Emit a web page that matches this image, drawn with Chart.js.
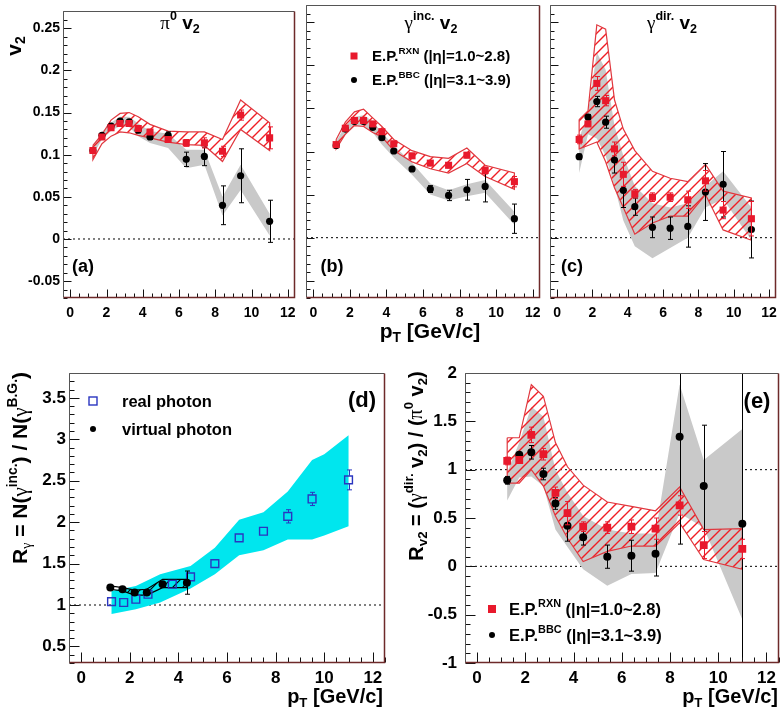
<!DOCTYPE html>
<html>
<head>
<meta charset="utf-8">
<script src="https://cdn.jsdelivr.net/npm/chart.js@4.4.0/dist/chart.umd.min.js"></script>
<style>
  body { margin: 0; background: #fff; }
  #wrap { position: relative; width: 784px; height: 719px; }
  #wrap canvas { position: absolute; left: 0; top: 0; pointer-events: none; }
</style>
</head>
<body>
<div id="wrap">
  <canvas id="pa" width="784" height="719"></canvas>
  <canvas id="pb" width="784" height="719"></canvas>
  <canvas id="pc" width="784" height="719"></canvas>
  <canvas id="pd" width="784" height="719"></canvas>
  <canvas id="pe" width="784" height="719"></canvas>
</div>
<script>
// pT bin centres used in panels (a), (b), (c), (e)
var ptBins = [1.25, 1.75, 2.25, 2.75, 3.25, 3.75, 4.4, 5.4, 6.4, 7.4, 8.4, 9.4, 11.0];

// (a) pi0 v2
var pi0RxnV2    = [0.105, 0.121, 0.132, 0.137, 0.137, 0.131, 0.127, 0.118, 0.114, 0.114, 0.104, 0.147, 0.120];
var pi0RxnErr   = [0.002, 0.002, 0.002, 0.002, 0.002, 0.003, 0.003, 0.003, 0.004, 0.006, 0.006, 0.006, 0.013];
var pi0RxnSysHi = [0.111, 0.124, 0.141, 0.149, 0.150, 0.145, 0.136, 0.128, 0.127, 0.127, 0.118, 0.165, 0.138];
var pi0RxnSysLo = [0.094, 0.113, 0.122, 0.127, 0.126, 0.123, 0.120, 0.115, 0.112, 0.111, 0.092, 0.130, 0.105];
var pi0BbcV2    = [0.105, 0.123, 0.134, 0.140, 0.139, 0.129, 0.121, 0.123, 0.0945, 0.098, 0.040, 0.075, 0.021];
var pi0BbcErr   = [0.002, 0.002, 0.002, 0.002, 0.002, 0.003, 0.003, 0.004, 0.0085, 0.011, 0.023, 0.032, 0.025];
var pi0BbcSysHi = [0.110, 0.127, 0.138, 0.145, 0.145, 0.137, 0.128, 0.125, 0.106, 0.106, 0.050, 0.088, 0.030];
var pi0BbcSysLo = [0.100, 0.118, 0.128, 0.134, 0.133, 0.122, 0.114, 0.108, 0.084, 0.088, 0.028, 0.058, 0.004];

// (b) inclusive photon v2
var incRxnV2    = [0.108, 0.127, 0.136, 0.136, 0.132, 0.123, 0.109, 0.095, 0.0865, 0.084, 0.0957, 0.078, 0.065];
var incRxnErr   = [0.002, 0.002, 0.002, 0.002, 0.002, 0.002, 0.002, 0.002, 0.002, 0.003, 0.003, 0.004, 0.006];
var incRxnSysHi = [0.114, 0.134, 0.146, 0.149, 0.139, 0.129, 0.114, 0.101, 0.094, 0.092, 0.104, 0.084, 0.075];
var incRxnSysLo = [0.103, 0.120, 0.130, 0.129, 0.122, 0.117, 0.101, 0.088, 0.080, 0.075, 0.086, 0.071, 0.056];
var incBbcV2    = [0.107, 0.126, 0.135, 0.135, 0.128, 0.116, 0.1006, 0.0797, 0.0564, 0.049, 0.0556, 0.0595, 0.022];
var incBbcErr   = [0.002, 0.002, 0.002, 0.002, 0.002, 0.002, 0.002, 0.002, 0.004, 0.006, 0.012, 0.018, 0.017];
var incBbcSysHi = [0.112, 0.130, 0.140, 0.142, 0.135, 0.122, 0.107, 0.087, 0.063, 0.055, 0.062, 0.067, 0.030];
var incBbcSysLo = [0.102, 0.120, 0.130, 0.130, 0.122, 0.108, 0.093, 0.073, 0.050, 0.043, 0.048, 0.052, 0.015];

// (c) direct photon v2
var dirRxnV2    = [0.114, 0.132, 0.179, 0.159, 0.103, 0.0735, 0.051, 0.047, 0.047, 0.044, 0.066, 0.032, 0.022];
var dirRxnErr   = [0.005, 0.003, 0.008, 0.006, 0.008, 0.014, 0.005, 0.005, 0.005, 0.010, 0.012, 0.010, 0.020];
var dirRxnSysHi = [0.137, 0.147, 0.247, 0.242, 0.160, 0.126, 0.101, 0.077, 0.069, 0.065, 0.085, 0.054, 0.046];
var dirRxnSysLo = [0.103, 0.107, 0.111, 0.088, 0.058, 0.035, 0.004, 0.017, 0.025, 0.025, 0.050, 0.009, -0.003];
var dirBbcV2    = [0.094, 0.140, 0.158, 0.134, 0.090, 0.055, 0.036, 0.012, 0.011, 0.013, 0.053, 0.062, 0.0095];
var dirBbcErr   = [0.003, 0.003, 0.006, 0.007, 0.015, 0.020, 0.010, 0.012, 0.013, 0.024, 0.033, 0.038, 0.033];
var dirBbcSysHi = [0.115, 0.145, 0.215, 0.195, 0.130, 0.095, 0.060, 0.040, 0.035, 0.040, 0.060, 0.077, 0.035];
var dirBbcSysLo = [0.075, 0.120, 0.115, 0.095, 0.060, 0.020, -0.010, -0.024, -0.012, 0.000, 0.035, 0.045, -0.003];

// (d) R_gamma
var realPt    = [1.25, 1.75, 2.25, 2.75, 3.75, 4.5, 5.5, 6.5, 7.5, 8.5, 9.5, 11.0];
var realR     = [1.04, 1.03, 1.07, 1.13, 1.25, 1.34, 1.50, 1.81, 1.89, 2.07, 2.28, 2.51];
var realErr   = [0.01, 0.01, 0.01, 0.01, 0.01, 0.02, 0.01, 0.02, 0.03, 0.08, 0.08, 0.12];
var realSysPt = [1.25, 2.25, 3.25, 4.5, 5.5, 6.5, 7.5, 8.5, 9.5, 10.0, 11.0];
var realSysHi = [1.17, 1.23, 1.37, 1.47, 1.69, 2.03, 2.12, 2.37, 2.75, 2.82, 3.05];
var realSysLo = [0.89, 0.95, 1.03, 1.20, 1.37, 1.60, 1.66, 1.79, 1.79, 1.84, 1.95];
var virtPt    = [1.2, 1.7, 2.2, 2.7, 3.35, 4.35];
var virtR     = [1.21, 1.19, 1.15, 1.15, 1.25, 1.27];
var virtErr   = [0.01, 0.01, 0.01, 0.01, 0.02, 0.14];
var virtSysHi = [1.23, 1.21, 1.18, 1.19, 1.31, 1.31];
var virtSysLo = [1.19, 1.17, 1.12, 1.12, 1.21, 1.21];

// (e) R_v2 = direct v2 / pi0 v2
var ratioRxn      = [1.09, 1.10, 1.36, 1.16, 0.76, 0.55, 0.41, 0.40, 0.41, 0.39, 0.63, 0.22, 0.18];
var ratioRxnErr   = [0.04, 0.03, 0.08, 0.06, 0.06, 0.12, 0.05, 0.06, 0.07, 0.11, 0.10, 0.14, 0.10];
var ratioRxnSysHi = [1.33, 1.33, 1.88, 1.76, 1.28, 1.03, 0.84, 0.665, 0.62, 0.575, 0.82, 0.38, 0.39];
var ratioRxnSysLo = [0.86, 0.86, 1.00, 0.83, 0.52, 0.29, 0.05, 0.155, 0.21, 0.21, 0.45, 0.07, -0.03];
var ratioBbc      = [0.89, 1.155, 1.18, 0.955, 0.65, 0.42, 0.30, 0.10, 0.11, 0.13, 1.34, 0.83, 0.44];
var ratioBbcErr   = [0.04, 0.02, 0.07, 0.06, 0.06, 0.16, 0.08, 0.12, 0.16, 0.23, 1.11, 0.63, 3.5];
var ratioBbcSysHi = [0.97, 1.28, 1.65, 1.55, 1.00, 0.76, 0.52, 0.38, 0.34, 0.34, 1.88, 1.10, 1.42];
var ratioBbcSysLo = [0.68, 0.92, 0.93, 0.83, 0.38, 0.20, -0.03, -0.20, -0.08, -0.07, 0.55, 0.40, -0.55];

// axes
var ptTicks     = [0, 2, 4, 6, 8, 10, 12];
var v2Ticks     = [-0.05, 0, 0.05, 0.1, 0.15, 0.2, 0.25];
var rGammaTicks = [0.5, 1, 1.5, 2, 2.5, 3, 3.5];
var rV2Ticks    = [-1, -0.5, 0, 0.5, 1, 1.5, 2];
var topXRange = [-0.4, 12.4], topYRange = [-0.07, 0.27];
var botXRange = [-0.5, 12.5];
var dYRange = [0.3, 3.8], eYRange = [-1, 2];

var W = 784, H = 719;
var SANS = '"Liberation Sans", Arial, sans-serif';
var SERIF = '"Liberation Serif", "Times New Roman", serif';
var RED = '#e8192c', REDLINE = '#e0383f', GREY = '#c9c9c9';

function pts(xs, ys) {
  return xs.map(function (x, i) { return { x: x, y: ys[i] }; });
}

// closed outline: upper edge left->right, lower edge right->left
function band(xs, hi, lo) {
  var out = pts(xs, hi);
  for (var i = xs.length - 1; i >= 0; i--) out.push({ x: xs[i], y: lo[i] });
  out.push({ x: xs[0], y: hi[0] });
  return out;
}

function hatch(color, lw) {
  var c = document.createElement('canvas');
  c.width = 10; c.height = 10;
  var g = c.getContext('2d');
  g.strokeStyle = color; g.lineWidth = lw;
  g.beginPath();
  g.moveTo(0, 10); g.lineTo(10, 0);
  g.moveTo(-2, 2); g.lineTo(2, -2);
  g.moveTo(8, 12); g.lineTo(12, 8);
  g.stroke();
  return g.createPattern(c, 'repeat');
}
var redHatch = hatch('#f01e24', 1.4);
var blackHatch = hatch('#000', 1.2);

function bandSet(data, fillColor, lineColor, order) {
  return {
    data: data, fill: 'shape', backgroundColor: fillColor,
    borderColor: lineColor || 'rgba(0,0,0,0)', borderWidth: lineColor ? 1.2 : 0,
    pointRadius: 0, tension: 0, order: order
  };
}
function pointSet(xs, ys, errs, style, color, radius, order, open) {
  return {
    data: pts(xs, ys), showLine: false, pointStyle: style, pointRadius: radius,
    pointBackgroundColor: open ? 'rgba(0,0,0,0)' : color, pointBorderColor: color,
    pointBorderWidth: open ? 1.4 : 0, borderColor: color, errorBars: errs,
    errorGap: open ? radius * 0.75 : 0, order: order
  };
}
function refLine(range, y) {
  return {
    data: [{ x: range[0], y: y }, { x: range[1], y: y }], borderColor: '#000', borderWidth: 1,
    borderDash: [2, 3], pointRadius: 0, order: 9
  };
}

var errorBarPlugin = {
  id: 'errorBars',
  beforeDatasetDraw: function (chart, args) {
    var ds = chart.data.datasets[args.index];
    if (!ds.errorBars) return;
    var ctx = chart.ctx, ys = chart.scales.y, a = chart.chartArea;
    var gap = ds.errorGap || 0;
    ctx.save();
    ctx.beginPath();
    ctx.rect(a.left, a.top, a.right - a.left, a.bottom - a.top);
    ctx.clip();
    ctx.strokeStyle = ds.borderColor; ctx.lineWidth = 1;
    args.meta.data.forEach(function (p, i) {
      var v = ds.data[i].y, e = ds.errorBars[i];
      var y1 = ys.getPixelForValue(v + e), y2 = ys.getPixelForValue(v - e);
      if (gap && p.y - y1 <= gap + 1) return;   // hidden inside an open marker
      var x = Math.round(p.x) + 0.5;
      ctx.beginPath();
      ctx.moveTo(x, y1); ctx.lineTo(x, p.y - gap);
      ctx.moveTo(x, p.y + gap); ctx.lineTo(x, y2);
      ctx.moveTo(x - 2.5, y1); ctx.lineTo(x + 2.5, y1);
      ctx.moveTo(x - 2.5, y2); ctx.lineTo(x + 2.5, y2);
      ctx.stroke();
    });
    ctx.restore();
  }
};

function framePlugin(o) {
  return {
    id: 'frame',
    afterDatasetsDraw: function (chart) {
      var a = chart.chartArea, ctx = chart.ctx, xs = chart.scales.x, ys = chart.scales.y;
      var L = Math.round(a.left) + 0.5, R = Math.round(a.right) - 0.5;
      var T = Math.round(a.top) + 0.5, B = Math.round(a.bottom) - 0.5;
      ctx.save();
      ctx.lineWidth = 1;
      ctx.strokeStyle = '#111';
      ctx.beginPath();
      var k, v, p, maj;
      for (k = Math.ceil(xs.min / o.xMinor); k * o.xMinor <= xs.max + 1e-9; k++) {
        v = k * o.xMinor;
        maj = Math.abs(v / o.xMajor - Math.round(v / o.xMajor)) < 1e-6;
        p = Math.round(xs.getPixelForValue(v)) + 0.5;
        ctx.moveTo(p, B); ctx.lineTo(p, B - (maj ? o.major : o.minor));
      }
      for (k = Math.ceil(ys.min / o.yMinor - 1e-9); k * o.yMinor <= ys.max + 1e-9; k++) {
        v = k * o.yMinor;
        maj = Math.abs(v / o.yMajor - Math.round(v / o.yMajor)) < 1e-6;
        p = Math.round(ys.getPixelForValue(v)) + 0.5;
        ctx.moveTo(L, p); ctx.lineTo(L + (maj ? o.major : o.minor), p);
      }
      ctx.stroke();
      ctx.strokeStyle = '#555';
      ctx.beginPath(); ctx.moveTo(L, B); ctx.lineTo(L, T); ctx.lineTo(R, T); ctx.stroke();
      ctx.strokeStyle = '#6e2a2a';
      ctx.lineWidth = 1.5;
      ctx.beginPath(); ctx.moveTo(R, T); ctx.lineTo(R, B); ctx.lineTo(L, B); ctx.stroke();
      ctx.restore();
    }
  };
}

// rich text: parts with optional sub/sup, serif, normal weight
function drawRich(ctx, it) {
  var size = it.size;
  function font(p) {
    var s = (p.sub || p.sup) ? size * 0.66 : size;
    return (p.normal ? '' : 'bold ') + s + 'px ' + (p.serif ? SERIF : SANS);
  }
  var total = 0;
  it.parts.forEach(function (p) { ctx.font = font(p); total += ctx.measureText(p.t).width; });
  ctx.save();
  ctx.translate(it.x, it.y);
  if (it.rot) ctx.rotate(it.rot);
  var x = it.align === 'left' ? 0 : it.align === 'right' ? -total : -total / 2;
  ctx.fillStyle = it.color || '#000';
  ctx.textBaseline = 'middle';
  ctx.textAlign = 'left';
  it.parts.forEach(function (p) {
    ctx.font = font(p);
    var dy = p.sup ? -size * 0.38 : p.sub ? size * 0.3 : 0;
    ctx.fillText(p.t, x, dy);
    x += ctx.measureText(p.t).width;
  });
  ctx.restore();
}

function textPlugin(items) {
  return {
    id: 'texts',
    afterDraw: function (chart) {
      var ctx = chart.ctx;
      items.forEach(function (it) {
        if (it.parts) { drawRich(ctx, it); return; }
        ctx.save();
        if (it.kind === 'dot') {
          ctx.fillStyle = it.color;
          ctx.beginPath(); ctx.arc(it.x, it.y, it.r, 0, Math.PI * 2); ctx.fill();
        } else if (it.kind === 'square') {
          ctx.fillStyle = it.color;
          ctx.fillRect(it.x - it.r, it.y - it.r, it.r * 2, it.r * 2);
        } else if (it.kind === 'open') {
          ctx.strokeStyle = it.color; ctx.lineWidth = 1.4;
          ctx.strokeRect(it.x - it.r, it.y - it.r, it.r * 2, it.r * 2);
        }
        ctx.restore();
      });
    }
  };
}

function makePanel(id, p) {
  var yW = p.yLabels ? 60 : 0, xH = 30;
  var tickFont = { family: SANS, weight: 'bold', size: p.font };
  return new Chart(document.getElementById(id), {
    type: 'line',
    data: { datasets: p.datasets },
    options: {
      responsive: false, animation: false, devicePixelRatio: 1,
      layout: { padding: { left: p.area.l - yW, top: p.area.t, right: W - p.area.r, bottom: H - p.area.b - xH } },
      scales: {
        x: {
          type: 'linear', min: p.xRange[0], max: p.xRange[1],
          grid: { display: false, drawTicks: false }, border: { display: false },
          afterBuildTicks: function (s) { s.ticks = p.xTicks.map(function (v) { return { value: v }; }); },
          afterFit: function (s) { s.height = xH; },
          ticks: { padding: p.xPad, font: tickFont, color: '#000', maxRotation: 0, autoSkip: false,
                   callback: function (v) { return String(v); } }
        },
        y: {
          type: 'linear', min: p.yRange[0], max: p.yRange[1],
          grid: { display: false, drawTicks: false }, border: { display: false },
          afterBuildTicks: function (s) { s.ticks = p.yTicks.map(function (v) { return { value: v }; }); },
          afterFit: function (s) { s.width = yW; },
          ticks: { display: p.yLabels, padding: p.yPad, font: tickFont, color: '#000', autoSkip: false,
                   callback: function (v) { return String(v); } }
        }
      },
      plugins: { legend: { display: false }, tooltip: { enabled: false } }
    },
    plugins: [errorBarPlugin, framePlugin(p.frame), textPlugin(p.texts)]
  });
}

function v2Sets(rxn, rxnErr, rxnHi, rxnLo, bbc, bbcErr, bbcHi, bbcLo) {
  return [
    pointSet(ptBins, rxn, rxnErr, 'rect', RED, 5, 1),
    pointSet(ptBins, bbc, bbcErr, 'circle', '#000', 3.6, 2),
    bandSet(band(ptBins, rxnHi, rxnLo), redHatch, REDLINE, 3),
    bandSet(band(ptBins, bbcHi, bbcLo), GREY, null, 4),
    refLine(topXRange, 0)
  ];
}

var topFrame = { xMajor: 2, xMinor: 0.5, yMajor: 0.05, yMinor: 0.01, major: 8, minor: 4 };
var botFrame = { xMajor: 2, xMinor: 0.5, yMajor: 0.5, yMinor: 0.1, major: 10, minor: 5 };
var v2Sub = { t: '2', sub: 1 };

function topPanel(id, area, yLabels, sets, texts) {
  return makePanel(id, {
    area: area, xRange: topXRange, yRange: topYRange, xTicks: ptTicks, yTicks: v2Ticks,
    yLabels: yLabels, font: 14, xPad: 7, yPad: 3, frame: topFrame, datasets: sets, texts: texts
  });
}

topPanel('pa', { l: 63, t: 2, r: 295, b: 298 }, true,
  v2Sets(pi0RxnV2, pi0RxnErr, pi0RxnSysHi, pi0RxnSysLo, pi0BbcV2, pi0BbcErr, pi0BbcSysHi, pi0BbcSysLo),
  [
    { x: 15, y: 46, rot: -Math.PI / 2, size: 21, parts: [{ t: 'v' }, v2Sub] },
    { x: 180, y: 24, size: 19, parts: [{ t: 'π', serif: 1, normal: 1 }, { t: '0', sup: 1 }, { t: ' v' }, v2Sub] },
    { x: 83, y: 267, size: 18, parts: [{ t: '(a)' }] },
    { x: 430, y: 332, size: 21, parts: [{ t: 'p' }, { t: 'T', sub: 1 }, { t: ' [GeV/c]' }] }
  ]);

topPanel('pb', { l: 306, t: 2, r: 540, b: 298 }, false,
  v2Sets(incRxnV2, incRxnErr, incRxnSysHi, incRxnSysLo, incBbcV2, incBbcErr, incBbcSysHi, incBbcSysLo),
  [
    { x: 431, y: 24, size: 19, parts: [{ t: 'γ', serif: 1, normal: 1 }, { t: 'inc.', sup: 1 }, { t: ' v' }, v2Sub] },
    { x: 332, y: 267, size: 18, parts: [{ t: '(b)' }] },
    { kind: 'square', x: 354, y: 56, r: 3.5, color: RED },
    { x: 372, y: 57, size: 15, align: 'left', parts: [{ t: 'E.P.' }, { t: 'RXN', sup: 1 }, { t: ' (|η|=1.0~2.8)' }] },
    { kind: 'dot', x: 354, y: 80, r: 3, color: '#000' },
    { x: 372, y: 81, size: 15, align: 'left', parts: [{ t: 'E.P.' }, { t: 'BBC', sup: 1 }, { t: ' (|η|=3.1~3.9)' }] }
  ]);

topPanel('pc', { l: 550, t: 2, r: 782, b: 298 }, false,
  v2Sets(dirRxnV2, dirRxnErr, dirRxnSysHi, dirRxnSysLo, dirBbcV2, dirBbcErr, dirBbcSysHi, dirBbcSysLo),
  [
    { x: 672, y: 24, size: 19, parts: [{ t: 'γ', serif: 1, normal: 1 }, { t: 'dir.', sup: 1 }, { t: ' v' }, v2Sub] },
    { x: 572, y: 267, size: 18, parts: [{ t: '(c)' }] }
  ]);

makePanel('pd', {
  area: { l: 69, t: 373, r: 385, b: 663 }, xRange: botXRange, yRange: dYRange,
  xTicks: ptTicks, yTicks: rGammaTicks, yLabels: true, font: 17, xPad: 5, yPad: 3, frame: botFrame,
  datasets: [
    pointSet(virtPt, virtR, virtErr, 'circle', '#000', 4, 1),
    pointSet(realPt, realR, realErr, 'rect', '#2a35c0', 5.5, 2, true),
    bandSet(band(virtPt, virtSysHi, virtSysLo), blackHatch, '#000', 3),
    bandSet(band(realSysPt, realSysHi, realSysLo), '#00e6ee', null, 4),
    refLine(botXRange, 1)
  ],
  texts: [
    { x: 21, y: 468, rot: -Math.PI / 2, size: 21, parts: [
      { t: 'R' }, { t: 'γ', sub: 1, serif: 1, normal: 1 }, { t: ' = N(' }, { t: 'γ', serif: 1, normal: 1 },
      { t: 'inc.', sup: 1 }, { t: ') / N(' }, { t: 'γ', serif: 1, normal: 1 }, { t: 'B.G.', sup: 1 }, { t: ')' }] },
    { kind: 'open', x: 93, y: 401, r: 4, color: '#2a35c0' },
    { x: 122, y: 402, size: 16.5, align: 'left', parts: [{ t: 'real photon' }] },
    { kind: 'dot', x: 93, y: 429, r: 3, color: '#000' },
    { x: 122, y: 430, size: 16.5, align: 'left', parts: [{ t: 'virtual photon' }] },
    { x: 362, y: 401, size: 22, parts: [{ t: '(d)' }] },
    { x: 383, y: 697, size: 20, align: 'right', parts: [{ t: 'p' }, { t: 'T', sub: 1 }, { t: ' [GeV/c]' }] }
  ]
});

makePanel('pe', {
  area: { l: 465, t: 373, r: 779, b: 663 }, xRange: botXRange, yRange: eYRange,
  xTicks: ptTicks, yTicks: rV2Ticks, yLabels: true, font: 17, xPad: 5, yPad: 8, frame: botFrame,
  datasets: [
    pointSet(ptBins, ratioRxn, ratioRxnErr, 'rect', RED, 5.5, 1),
    pointSet(ptBins, ratioBbc, ratioBbcErr, 'circle', '#000', 4, 2),
    bandSet(band(ptBins, ratioRxnSysHi, ratioRxnSysLo), redHatch, REDLINE, 3),
    bandSet(band(ptBins, ratioBbcSysHi, ratioBbcSysLo), GREY, null, 4),
    refLine(botXRange, 0),
    refLine(botXRange, 1)
  ],
  texts: [
    { x: 417, y: 466, rot: -Math.PI / 2, size: 20, parts: [
      { t: 'R' }, { t: 'v2', sub: 1 }, { t: ' = (' }, { t: 'γ', serif: 1, normal: 1 }, { t: 'dir.', sup: 1 },
      { t: ' v' }, v2Sub, { t: ') / (' }, { t: 'π', serif: 1, normal: 1 }, { t: '0', sup: 1 }, { t: ' v' }, v2Sub, { t: ')' }] },
    { x: 757, y: 402, size: 22, parts: [{ t: '(e)' }] },
    { kind: 'square', x: 492, y: 609, r: 4, color: RED },
    { x: 509, y: 610, size: 16.5, align: 'left', parts: [{ t: 'E.P.' }, { t: 'RXN', sup: 1 }, { t: ' (|η|=1.0~2.8)' }] },
    { kind: 'dot', x: 492, y: 635, r: 3, color: '#000' },
    { x: 509, y: 636, size: 16.5, align: 'left', parts: [{ t: 'E.P.' }, { t: 'BBC', sup: 1 }, { t: ' (|η|=3.1~3.9)' }] },
    { x: 778, y: 697, size: 20, align: 'right', parts: [{ t: 'p' }, { t: 'T', sub: 1 }, { t: ' [GeV/c]' }] }
  ]
});
</script>
</body>
</html>
